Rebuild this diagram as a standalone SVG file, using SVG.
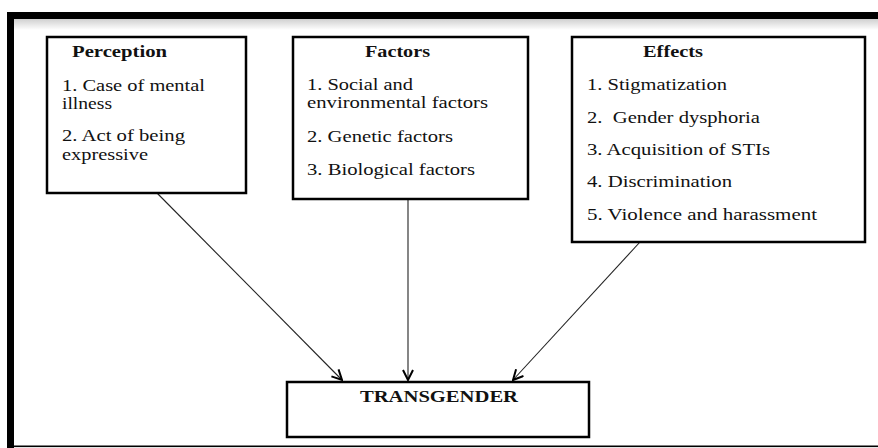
<svg xmlns="http://www.w3.org/2000/svg" width="878" height="448" viewBox="0 0 878 448">
<defs>
<linearGradient id="shade" x1="0" y1="0" x2="0" y2="1">
<stop offset="0" stop-color="#d0d0d0"/>
<stop offset="1" stop-color="#ffffff"/>
</linearGradient>
<marker id="arrow" viewBox="0 0 12 12" refX="11" refY="6" markerWidth="12" markerHeight="12" markerUnits="userSpaceOnUse" orient="auto">
<path d="M1,1 L11,6 L1,11" fill="none" stroke="#000" stroke-width="2"/>
</marker>
</defs>
<style>
.box{fill:#fff;stroke:#000;stroke-width:2.5}
.t{font-family:"Liberation Serif","Times New Roman",serif;font-size:16px;fill:#111}
.b{font-weight:bold}
.c{stroke:#222;stroke-width:1.1;fill:none}
</style>
<rect x="0" y="0" width="878" height="448" fill="#fff"/>
<g id="frame">
<rect x="7" y="19" width="871" height="11" fill="url(#shade)"/>
<rect x="7" y="12" width="871" height="7" fill="#000"/>
<rect x="7" y="12" width="7" height="436" fill="#000"/>
<rect x="7" y="445.5" width="871" height="1.6" fill="#000"/>
</g>
<g id="connectors">
<line class="c" x1="157" y1="193" x2="342" y2="380" marker-end="url(#arrow)"/>
<line class="c" x1="408" y1="199" x2="408" y2="380" marker-end="url(#arrow)"/>
<line class="c" x1="640" y1="242" x2="513" y2="380" marker-end="url(#arrow)"/>
</g>
<g id="perception">
<rect class="box" x="47" y="37" width="199" height="156"/>
<text class="t b" x="72" y="57" textLength="95" lengthAdjust="spacingAndGlyphs">Perception</text>
<text class="t" x="62" y="91" textLength="143" lengthAdjust="spacingAndGlyphs">1. Case of mental</text>
<text class="t" x="62" y="109" textLength="50" lengthAdjust="spacingAndGlyphs">illness</text>
<text class="t" x="62" y="141" textLength="123" lengthAdjust="spacingAndGlyphs">2. Act of being</text>
<text class="t" x="62" y="160" textLength="86" lengthAdjust="spacingAndGlyphs">expressive</text>
</g>
<g id="factors">
<rect class="box" x="293" y="37" width="235" height="162"/>
<text class="t b" x="365" y="57" textLength="65" lengthAdjust="spacingAndGlyphs">Factors</text>
<text class="t" x="307" y="90" textLength="106" lengthAdjust="spacingAndGlyphs">1. Social and</text>
<text class="t" x="307" y="108" textLength="181" lengthAdjust="spacingAndGlyphs">environmental factors</text>
<text class="t" x="307" y="142" textLength="146" lengthAdjust="spacingAndGlyphs">2. Genetic factors</text>
<text class="t" x="307" y="175" textLength="168" lengthAdjust="spacingAndGlyphs">3. Biological factors</text>
</g>
<g id="effects">
<rect class="box" x="572" y="37" width="293" height="205"/>
<text class="t b" x="643" y="57" textLength="60" lengthAdjust="spacingAndGlyphs">Effects</text>
<text class="t" x="587" y="90" textLength="140" lengthAdjust="spacingAndGlyphs">1. Stigmatization</text>
<text class="t" x="587" y="123" textLength="173" lengthAdjust="spacingAndGlyphs" xml:space="preserve">2.  Gender dysphoria</text>
<text class="t" x="587" y="155" textLength="183" lengthAdjust="spacingAndGlyphs">3. Acquisition of STIs</text>
<text class="t" x="587" y="187" textLength="145" lengthAdjust="spacingAndGlyphs">4. Discrimination</text>
<text class="t" x="587" y="220" textLength="230" lengthAdjust="spacingAndGlyphs">5. Violence and harassment</text>
</g>
<g id="transgender">
<rect class="box" x="287" y="382" width="302" height="55"/>
<text class="t b" x="360" y="402" textLength="158" lengthAdjust="spacingAndGlyphs">TRANSGENDER</text>
</g>
</svg>
